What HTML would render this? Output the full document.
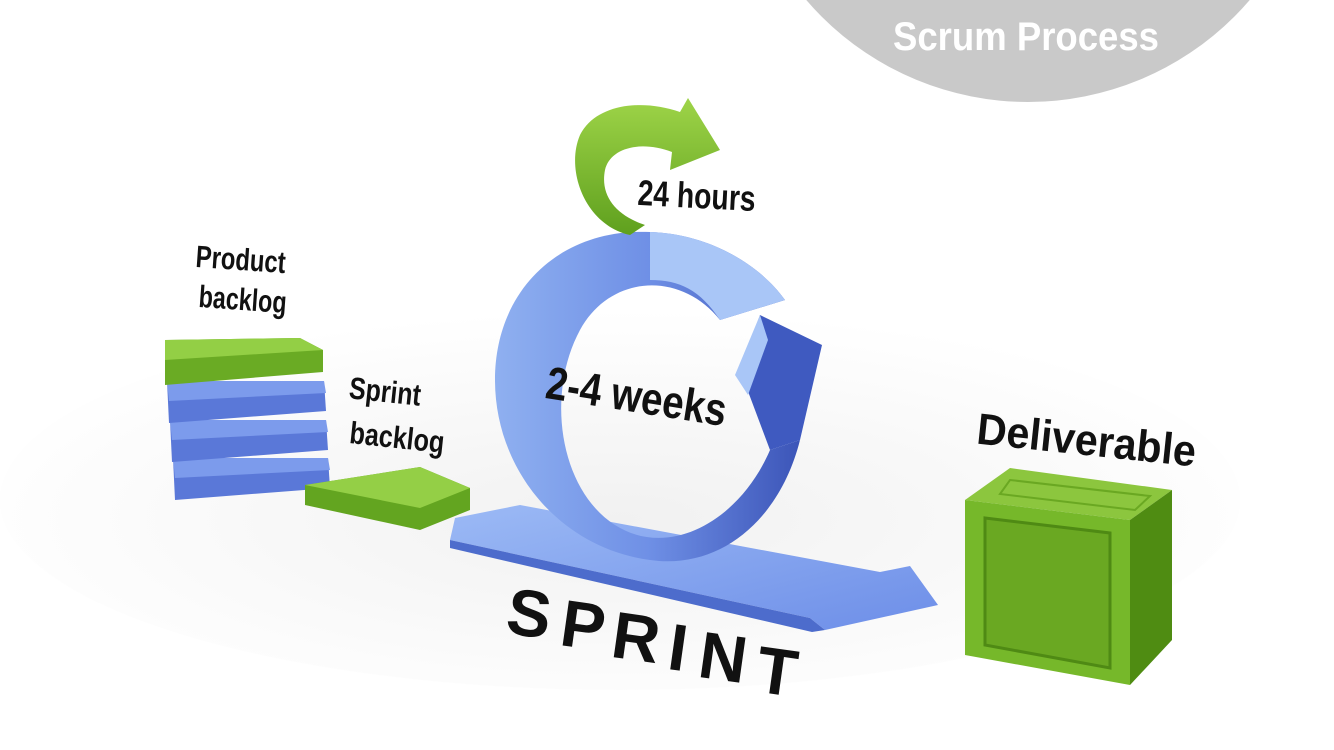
<!DOCTYPE html>
<html><head><meta charset="utf-8"><style>
html,body{margin:0;padding:0;background:#fff;}
svg{display:block;}
text{font-family:"Liberation Sans",sans-serif;font-weight:bold;}
</style></head><body>
<svg width="1334" height="750" viewBox="0 0 1334 750" xmlns="http://www.w3.org/2000/svg">
<defs>
<radialGradient id="floor" cx="0.5" cy="0.55" r="0.55">
<stop offset="0" stop-color="#f1f1f1"/><stop offset="1" stop-color="#ffffff"/>
</radialGradient>
<linearGradient id="ringG" x1="0" y1="0" x2="1" y2="0">
<stop offset="0" stop-color="#8fb0f0"/><stop offset="0.5" stop-color="#6f90e6"/><stop offset="1" stop-color="#3c55b8"/>
</linearGradient>
<linearGradient id="baseG" x1="0" y1="0" x2="1" y2="1">
<stop offset="0" stop-color="#9cbaf5"/><stop offset="1" stop-color="#6d8ee8"/>
</linearGradient>
<linearGradient id="grG" x1="0" y1="0" x2="0" y2="1">
<stop offset="0" stop-color="#9ed448"/><stop offset="1" stop-color="#5fa01e"/>
</linearGradient>
</defs>
<rect width="1334" height="750" fill="#fff"/>
<ellipse cx="620" cy="500" rx="620" ry="190" fill="url(#floor)"/>
<circle cx="1028" cy="-190" r="292" fill="#c9c9c9"/>
<text x="1026" y="50" text-anchor="middle" font-size="40" fill="#fff" textLength="266" lengthAdjust="spacingAndGlyphs">Scrum Process</text>

<g>
<polygon points="173,458 328,458 330,488 175,500" fill="#5a78d8"/>
<polygon points="173,458 328,458 330,470 175,478" fill="#7c9bec"/>
<polygon points="170,420 326,420 328,450 172,462" fill="#5a78d8"/>
<polygon points="170,420 326,420 328,432 172,440" fill="#7c9bec"/>
<polygon points="167,381 324,381 326,411 169,423" fill="#5a78d8"/>
<polygon points="167,381 324,381 326,393 169,401" fill="#7c9bec"/>
<polygon points="165,340 300,338 323,350 323,372 165,385" fill="#6aab24"/>
<polygon points="165,340 300,338 323,350 165,360" fill="#93cf45"/>
</g>
<polygon points="305,485 420,467 470,488 470,510 420,530 305,505" fill="#63a520"/>
<polygon points="305,485 420,467 470,488 420,508" fill="#94cf46"/>
<text x="240" y="270" text-anchor="middle" font-size="31" fill="#111" textLength="90" lengthAdjust="spacingAndGlyphs" transform="rotate(4 240 270)">Product</text>
<text x="242" y="310" text-anchor="middle" font-size="31" fill="#111" textLength="88" lengthAdjust="spacingAndGlyphs" transform="rotate(4 242 310)">backlog</text>
<text x="384" y="402" text-anchor="middle" font-size="31" fill="#111" textLength="72" lengthAdjust="spacingAndGlyphs" transform="rotate(6 384 402)">Sprint</text>
<text x="396" y="448" text-anchor="middle" font-size="31" fill="#111" textLength="95" lengthAdjust="spacingAndGlyphs" transform="rotate(6 396 448)">backlog</text>

<polygon points="455,518 520,505 880,572 910,566 938,605 825,630 810,618 450,540" fill="url(#baseG)"/>
<polygon points="450,540 810,618 825,630 812,632 450,548" fill="#4d6ccc"/>
<path d="M720,320 C680,270 610,275 580,330 C545,395 560,490 615,525 C670,560 740,520 770,450 L800,440 C780,520 720,570 650,560 C560,548 495,470 495,380 C495,290 560,228 650,232 C710,234 760,265 785,300 Z" fill="url(#ringG)"/>
<path d="M650,232 C710,234 760,265 785,300 L720,320 C700,290 680,280 650,280 Z" fill="#a9c6f7"/>
<polygon points="740,370 760,315 822,345 800,440 770,450" fill="#3f5ac0"/>
<polygon points="735,375 760,315 768,340 748,395" fill="#a9c6f7"/>
<path d="M630,235 C585,225 565,170 580,135 C595,105 640,98 680,112 L688,98 L720,150 L670,170 L672,152 C640,140 610,148 605,170 C600,195 615,215 645,225 Z" fill="url(#grG)"/>
<text x="696" y="208" text-anchor="middle" font-size="36" fill="#111" textLength="118" lengthAdjust="spacingAndGlyphs" transform="rotate(3 696 208)">24 hours</text>
<text x="634" y="412" text-anchor="middle" font-size="46" fill="#111" textLength="182" lengthAdjust="spacingAndGlyphs" transform="rotate(9 634 412)">2-4 weeks</text>
<g font-size="66" fill="#111" text-anchor="middle">
<text x="526" y="636" transform="rotate(8 526 636)">S</text>
<text x="580" y="648" transform="rotate(8 580 648)">P</text>
<text x="633" y="660" transform="rotate(8 633 660)">R</text>
<text x="675" y="670" transform="rotate(8 675 670)">I</text>
<text x="720" y="680" transform="rotate(8 720 680)">N</text>
<text x="774" y="694" transform="rotate(8 774 694)">T</text>
</g>
<text x="1085" y="455" text-anchor="middle" font-size="44" fill="#111" textLength="220" lengthAdjust="spacingAndGlyphs" transform="rotate(6 1085 455)">Deliverable</text>

<polygon points="965,500 1010,468 1172,490 1130,520" fill="#8cc63e"/>
<polygon points="1130,520 1172,490 1172,640 1130,685" fill="#4f8c12"/>
<polygon points="965,500 1130,520 1130,685 965,655" fill="#76b82a"/>
<polygon points="985,518 1110,533 1110,668 985,645" fill="#6aa822" stroke="#4f8a14" stroke-width="3"/>
<polygon points="1010,480 1150,496 1135,510 1000,494" fill="none" stroke="#6aa822" stroke-width="2"/>
</svg>
</body></html>
